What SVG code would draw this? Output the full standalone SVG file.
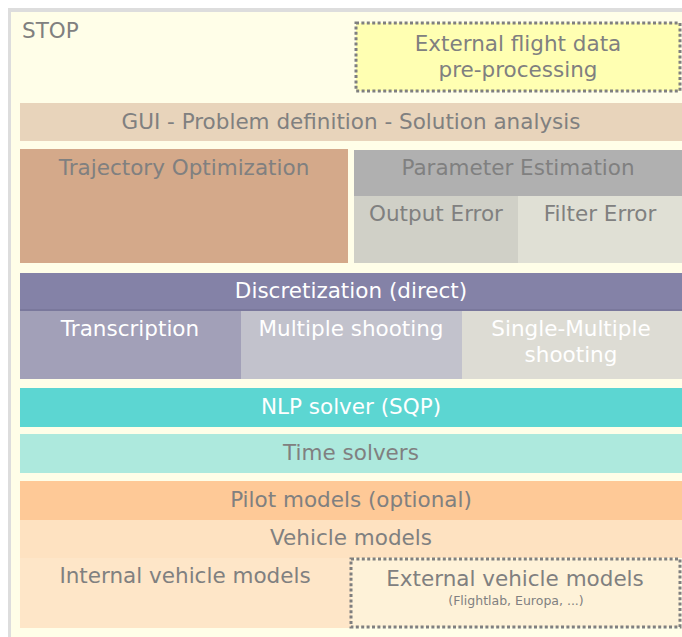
<svg xmlns="http://www.w3.org/2000/svg" width="682" height="637" viewBox="0 0 682 637">
<style>
text{font-family:"DejaVu Sans","Liberation Sans",sans-serif;font-size:21.5px;text-anchor:middle;fill:#808080}
.w{fill:#ffffff}
.dot{stroke:#7f7f7f;stroke-width:3;stroke-dasharray:3 2.4}
</style>
<rect x="0" y="0" width="682" height="637" fill="#ffffff"/>
<rect x="8" y="8" width="674" height="629" fill="#dddddd"/>
<rect x="11" y="12" width="671" height="625" fill="#fffee8"/>
<g id="stop"><text x="22" y="38" style="text-anchor:start">STOP</text></g>
<g id="external-flight-data">
<rect x="356" y="23" width="324" height="68" fill="#ffffb2" class="dot"/>
<text x="518" y="51">External flight data</text>
<text x="518" y="77">pre-processing</text>
</g>
<g id="gui"><rect x="20" y="103" width="662" height="38" fill="#e8d4bb"/><text x="351" y="129">GUI - Problem definition - Solution analysis</text></g>
<g id="trajectory-optimization"><rect x="20" y="149" width="328" height="114" fill="#d4a98a"/><text x="184" y="175">Trajectory Optimization</text></g>
<g id="parameter-estimation"><rect x="354" y="150" width="328" height="46" fill="#b0b0b0"/><text x="518" y="175">Parameter Estimation</text></g>
<g id="output-error"><rect x="354" y="196" width="164" height="67" fill="#d0d0c7"/><text x="436" y="221">Output Error</text></g>
<g id="filter-error"><rect x="518" y="196" width="164" height="67" fill="#e0e0d5"/><text x="600" y="221">Filter Error</text></g>
<g id="discretization"><rect x="20" y="273" width="662" height="38" fill="#8482a7"/><rect x="20" y="309" width="662" height="2" fill="#7a789c"/><text class="w" x="351" y="298">Discretization (direct)</text></g>
<g id="transcription"><rect x="20" y="311" width="221" height="68" fill="#a2a0b8"/><text class="w" x="130" y="336">Transcription</text></g>
<g id="multiple-shooting"><rect x="241" y="311" width="221" height="68" fill="#c2c2cc"/><text class="w" x="351" y="336">Multiple shooting</text></g>
<g id="single-multiple-shooting"><rect x="462" y="311" width="220" height="68" fill="#dddcd4"/><text class="w" x="571" y="336">Single-Multiple</text><text class="w" x="571" y="362">shooting</text></g>
<g id="nlp-solver"><rect x="20" y="388" width="662" height="39" fill="#5cd6d2"/><text class="w" x="351" y="414">NLP solver (SQP)</text></g>
<g id="time-solvers"><rect x="20" y="434" width="662" height="39" fill="#ade9dd"/><text x="351" y="460">Time solvers</text></g>
<g id="pilot-models"><rect x="20" y="481" width="662" height="39" fill="#fec997"/><text x="351" y="507">Pilot models (optional)</text></g>
<g id="vehicle-models"><rect x="20" y="520" width="662" height="38" fill="#fee2c1"/><text x="351" y="545">Vehicle models</text></g>
<g id="internal-vehicle-models"><rect x="20" y="558" width="331" height="70" fill="#fee6c8"/><text x="185" y="583">Internal vehicle models</text></g>
<g id="external-vehicle-models">
<rect x="351" y="559" width="329" height="68" fill="#fef2d8" class="dot"/>
<text x="515" y="586">External vehicle models</text>
<text x="516" y="605" style="font-size:12.5px">(Flightlab, Europa, ...)</text>
</g>
<g id="connectors"></g>
</svg>
